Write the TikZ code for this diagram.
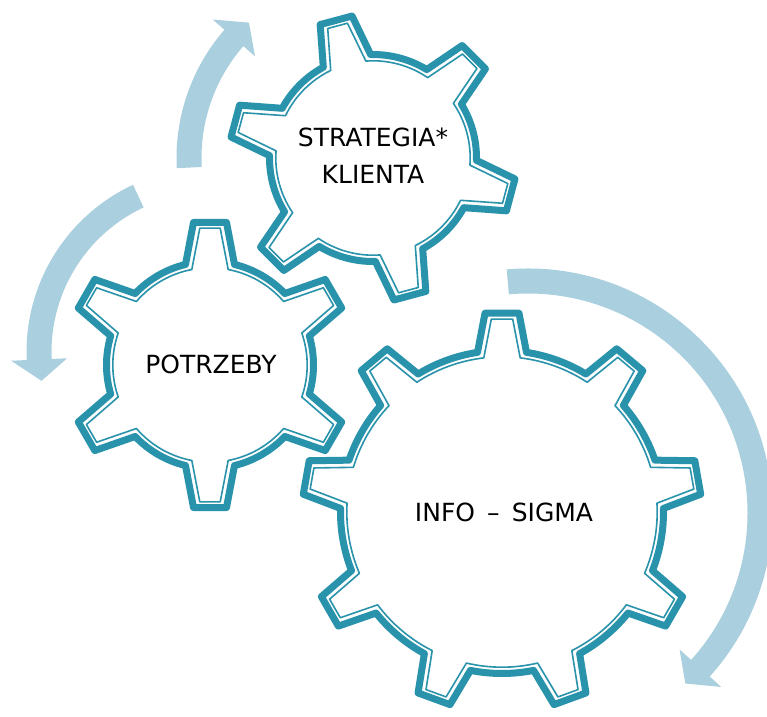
\documentclass[tikz,border=0pt]{standalone}
\usepackage{fontspec}
\setmainfont{DejaVu Sans}
\usetikzlibrary{positioning}
\definecolor{gearteal}{HTML}{2A93AC}
\definecolor{arrowblue}{HTML}{AACFDE}

% gear outline: style, teeth, rotation, tip radius, root radius, tip half width, base half width, inset
\newcommand{\gear}[8]{%
  \pgfmathsetmacro{\gRt}{#4-#8}%
  \pgfmathsetmacro{\gRr}{#5-#8}%
  \pgfmathsetmacro{\gBt}{asin((#6-#8)/\gRt)}%
  \pgfmathsetmacro{\gBb}{asin((#7-#8)/\gRr)}%
  \pgfmathsetmacro{\gStep}{360/#2}%
  \pgfmathtruncatemacro{\gLast}{#2-1}%
  \path[#1] ({#3-\gBb}:\gRr pt)
    \foreach \k in {0,...,\gLast}{
      -- ({#3+\k*\gStep-\gBt}:\gRt pt) -- ({#3+\k*\gStep+\gBt}:\gRt pt)
      -- ({#3+\k*\gStep+\gBb}:\gRr pt)
      arc[start angle={#3+\k*\gStep+\gBb}, end angle={#3+(\k+1)*\gStep-\gBb}, radius=\gRr pt]
    } -- cycle;
}

% turning arrow: centre, radius, start angle, end angle, sense (+1/-1)
\newcommand{\turnarrow}[5]{%
  \pgfmathsetmacro{\aTip}{#4+#5*21.5/#2*180/pi}%
  \pgfmathsetmacro{\aOut}{#2+12.5}%
  \pgfmathsetmacro{\aIn}{#2-12.5}%
  \pgfmathsetmacro{\aBarbO}{#2+28}%
  \pgfmathsetmacro{\aBarbI}{#2-28}%
  \fill[arrowband, shift={(#1)}] (#3:\aOut pt) arc[start angle=#3, end angle=#4, radius=\aOut pt]
    -- (#4:\aBarbO pt) -- (\aTip:#2pt) -- (#4:\aBarbI pt) -- (#4:\aIn pt)
    arc[start angle=#4, end angle=#3, radius=\aIn pt] -- cycle;
}

\begin{document}
\begin{tikzpicture}[
        x=1pt, y=1pt,
        gearfill/.style={fill=white},
        gearthick/.style={draw=gearteal, line width=7pt, line join=round},
        gearthin/.style={draw=gearteal, line width=1.6pt, line join=round},
        arrowband/.style={fill=arrowblue},
        label/.style={align=center, inner sep=0pt, font=\fontsize{25}{37}\selectfont}
    ]
    \useasboundingbox (0,0) rectangle (767,716);

    % arrows behind the gears
    \turnarrow{372,558}{183}{183}{139}{-1}
    \turnarrow{211,364}{172}{115}{182.5}{1}
    \turnarrow{528,203}{232}{95}{-42}{-1}

    % strategia gear
    \begin{scope}[shift={(373,558)}]
        \gear{gearfill}{6}{105}{147}{107}{20}{28}{0}
        \gear{gearthick}{6}{105}{147}{107}{20}{28}{3.5}
        \gear{gearthin}{6}{105}{147}{107}{20}{28}{9.8}
    \end{scope}
    % potrzeby gear
    \begin{scope}[shift={(210,351)}]
        \gear{gearfill}{6}{90}{147}{107}{20}{28}{0}
        \gear{gearthick}{6}{90}{147}{107}{20}{28}{3.5}
        \gear{gearthin}{6}{90}{147}{107}{20}{28}{9.8}
    \end{scope}
    % info-sigma gear
    \begin{scope}[shift={(502,204)}]
        \gear{gearfill}{9}{90}{203}{165}{20.5}{28}{0}
        \gear{gearthick}{9}{90}{203}{165}{20.5}{28}{3.5}
        \gear{gearthin}{9}{90}{203}{165}{20.5}{28}{9.8}
    \end{scope}

    \node[label] (strategia) at (373,560) {STRATEGIA*\\KLIENTA};
    \node[label] (potrzeby) at (211,352) {POTRZEBY};
    \node[label] (infosigma) at (504,204) {INFO \,–\, SIGMA};
\end{tikzpicture}
\end{document}
